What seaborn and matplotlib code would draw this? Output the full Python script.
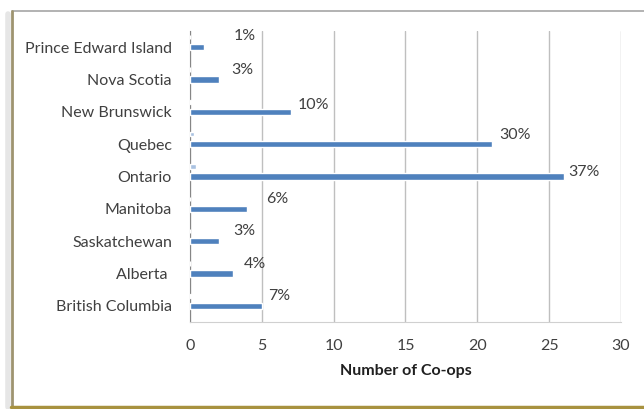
import matplotlib
matplotlib.use("Agg")
import matplotlib.pyplot as plt
import matplotlib.transforms as mtransforms
from matplotlib.lines import Line2D
import seaborn as sns
import pandas as pd

# data
provinces = ["Prince Edward Island", "Nova Scotia", "New Brunswick", "Quebec",
             "Ontario", "Manitoba", "Saskatchewan", "Alberta ", "British Columbia"]
coops = [1, 2, 7, 21, 26, 4, 2, 3, 5]
coops_second = [0, 0, 0.1, 0.3, 0.4, 0, 0, 0, 0.05]
pct_labels = ["1%", "3%", "10%", "30%", "37%", "6%", "3%", "4%", "7%"]

# label placement (pixels from the end of each bar)
label_offsets = [(29, 11), (13, 10), (7, 7), (8, 9), (5, 4),
                 (19, 10), (15, 10), (11, 10), (6, 10)]

BLUE = "#4F81BD"
LIGHT = "#A9C1E1"
TEXT = "#404040"
FS = 11.5

sns.set_style("white")
plt.rcParams["font.family"] = ["Lato", "DejaVu Sans"]

df = pd.DataFrame({"province": provinces, "coops": coops, "second": coops_second})

fig = plt.figure(figsize=(6.44, 4.09), dpi=100)
ax = fig.add_axes([190 / 644, 1 - 322 / 409, 431 / 644, 291 / 409])

sns.barplot(data=df, x="coops", y="province", color=BLUE, width=0.19,
            saturation=1, ax=ax, zorder=3)
n_main = len(ax.patches)
sns.barplot(data=df, x="second", y="province", color=LIGHT, width=0.14,
            saturation=1, ax=ax, zorder=3)
# second series sits a little above the main bar
shift = mtransforms.ScaledTranslation(0, 10 / 100, fig.dpi_scale_trans)
for p in ax.patches[n_main:]:
    p.set_transform(ax.transData + shift)

for i, (v, lab) in enumerate(zip(coops, pct_labels)):
    dx, dy = label_offsets[i]
    ax.annotate(lab, xy=(v, i), xytext=(dx, dy), textcoords="offset pixels",
                ha="left", va="center", fontsize=FS, color=TEXT)

ax.set_xlim(0, 30)
ax.set_xticks(range(0, 31, 5))
ax.set_ylim(len(provinces) - 0.5, -0.5)
ax.grid(axis="x", color="#BFBFBF", linewidth=1)
ax.set_axisbelow(True)
for side in ["top", "right"]:
    ax.spines[side].set_visible(False)
ax.spines["left"].set_color("#868686")
ax.spines["bottom"].set_color("#D0D0D0")
ax.tick_params(axis="x", length=4, color="#D0D0D0", labelsize=FS,
               labelcolor=TEXT, pad=8, direction="out")
ax.tick_params(axis="y", length=0, labelsize=FS, labelcolor=TEXT, pad=13)
ax.set_ylabel("")
ax.set_xlabel("Number of Co-ops", fontsize=FS, fontweight="bold",
              color="#202020", labelpad=8)

# chart frame with shadow
fig.add_artist(Line2D([12 / 644, 1], [1 - 11 / 409, 1 - 11 / 409],
                      transform=fig.transFigure, color="#A6A6A6", lw=1.2))
fig.add_artist(Line2D([8 / 644, 8 / 644], [2 / 409, 1 - 14 / 409],
                      transform=fig.transFigure, color="#E6E6E6", lw=4))
fig.add_artist(Line2D([11.5 / 644, 11.5 / 644], [2 / 409, 1 - 11 / 409],
                      transform=fig.transFigure, color="#9E9470", lw=2))
fig.add_artist(Line2D([11 / 644, 1], [2.5 / 409, 2.5 / 409],
                      transform=fig.transFigure, color="#A8923F", lw=2.5))

fig.savefig("out.png", dpi=100)
